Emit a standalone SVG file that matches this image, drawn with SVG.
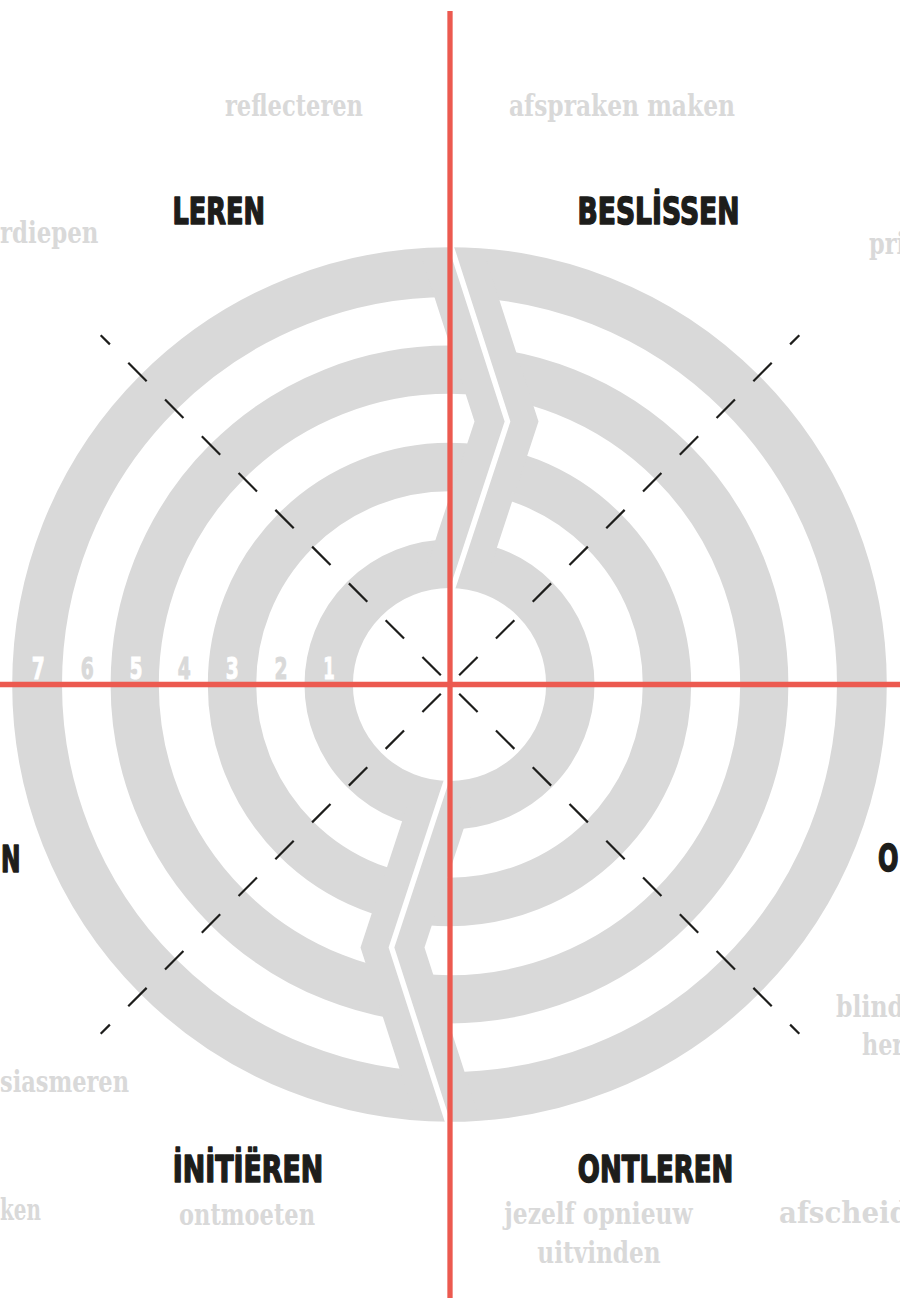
<svg xmlns="http://www.w3.org/2000/svg" xmlns:xlink="http://www.w3.org/1999/xlink" width="900" height="1304" viewBox="0 0 900 1304">
<defs>
<style>
.band{fill:none;stroke:#d9d9d9}
.spine{fill:#d9d9d9}
.cut{fill:none;stroke:#ffffff;stroke-width:5.5;stroke-linejoin:miter}
.dash{stroke:#1d1d1b;stroke-width:2.2;stroke-dasharray:26 26;stroke-dashoffset:13;fill:none}
.axis{stroke:#ec5a50;stroke-width:5.3;fill:none}
.hd{font-family:"DejaVu Sans","Liberation Sans",sans-serif;font-weight:bold;font-size:36.5px;fill:#1d1d1b;stroke:#1d1d1b;stroke-width:1.6;stroke-linejoin:round}
.lbl{font-family:"DejaVu Serif","Liberation Serif",serif;font-weight:bold;font-size:30.5px;fill:#d9d9d9}
.num{font-family:"DejaVu Sans","Liberation Sans",sans-serif;font-weight:bold;font-size:30px;text-anchor:middle;stroke-width:1}
.nw{fill:#ffffff;stroke:#ffffff}
.ng{fill:#d9d9d9;stroke:#d9d9d9}
</style>
<g id="spine">
<polygon class="spine" points="421.2,256 485.2,256 538.5,421.5 491.2,565 427.2,565 474.5,421.5"/>
<polyline class="cut" points="450,243 507.5,421.5 451.4,592"/>
</g>
</defs>
<rect width="900" height="1304" fill="#ffffff"/>
<g id="labyrinth">
<circle class="band" cx="449.5" cy="684.5" r="120.8" stroke-width="48.4"/>
<circle class="band" cx="449.5" cy="684.5" r="217.5" stroke-width="48.4"/>
<circle class="band" cx="449.5" cy="684.5" r="314.8" stroke-width="48.2"/>
<circle class="band" cx="449.5" cy="684.5" r="412.4" stroke-width="49.8"/>
<use xlink:href="#spine" href="#spine"/>
<use xlink:href="#spine" href="#spine" transform="rotate(180 449.5 684.5)"/>
</g>
<g id="connectors">
<line class="dash" x1="100.7" y1="335.2" x2="799.3" y2="1033.8"/>
<line class="dash" x1="799.3" y1="335.2" x2="100.7" y2="1033.8"/>
<line class="axis" x1="450" y1="11" x2="450" y2="1298"/>
<line class="axis" x1="0" y1="684.5" x2="900" y2="684.5"/>
</g>
<g id="circuit-numbers">
<text class="num nw" x="38.3" y="679" textLength="13" lengthAdjust="spacingAndGlyphs">7</text>
<text class="num ng" x="87.3" y="679" textLength="13" lengthAdjust="spacingAndGlyphs">6</text>
<text class="num nw" x="136" y="679" textLength="13" lengthAdjust="spacingAndGlyphs">5</text>
<text class="num ng" x="184.3" y="679" textLength="13" lengthAdjust="spacingAndGlyphs">4</text>
<text class="num nw" x="232.3" y="679" textLength="13" lengthAdjust="spacingAndGlyphs">3</text>
<text class="num ng" x="281" y="679" textLength="13" lengthAdjust="spacingAndGlyphs">2</text>
<text class="num nw" x="329" y="679" textLength="11.5" lengthAdjust="spacingAndGlyphs">1</text>
</g>
<g id="node-leren">
<text class="hd" x="172.5" y="223.5" textLength="92.5" lengthAdjust="spacingAndGlyphs">LEREN</text>
</g>
<g id="node-beslissen">
<text class="hd" x="577.5" y="224" textLength="162" lengthAdjust="spacingAndGlyphs">BESLİSSEN</text>
</g>
<g id="node-initieren">
<text class="hd" x="172.8" y="1181.7" textLength="150.5" lengthAdjust="spacingAndGlyphs">İNİTİËREN</text>
</g>
<g id="node-ontleren">
<text class="hd" x="577.8" y="1182" textLength="155.5" lengthAdjust="spacingAndGlyphs">ONTLEREN</text>
</g>
<g id="node-left">
<text class="hd" x="1" y="871.5" textLength="19.5" lengthAdjust="spacingAndGlyphs">N</text>
</g>
<g id="node-right">
<text class="hd" x="878" y="870.5" textLength="20.5" lengthAdjust="spacingAndGlyphs">O</text>
</g>
<g id="sub-labels">
<text class="lbl" x="225" y="116" textLength="138" lengthAdjust="spacingAndGlyphs">reflecteren</text>
<text class="lbl" x="509" y="116" textLength="226" lengthAdjust="spacingAndGlyphs">afspraken maken</text>
<text class="lbl" x="0" y="243" textLength="98.5" lengthAdjust="spacingAndGlyphs">rdiepen</text>
<text class="lbl" x="869" y="254" textLength="36" lengthAdjust="spacingAndGlyphs">pri</text>
<text class="lbl" x="836" y="1017" textLength="68" lengthAdjust="spacingAndGlyphs">blind</text>
<text class="lbl" x="862" y="1055" textLength="42" lengthAdjust="spacingAndGlyphs">her</text>
<text class="lbl" x="0" y="1092" textLength="129" lengthAdjust="spacingAndGlyphs">siasmeren</text>
<text class="lbl" x="0" y="1220" textLength="41" lengthAdjust="spacingAndGlyphs">ken</text>
<text class="lbl" x="179" y="1225" textLength="136" lengthAdjust="spacingAndGlyphs">ontmoeten</text>
<text class="lbl" x="504.3" y="1224" textLength="188.4" lengthAdjust="spacingAndGlyphs">jezelf opnieuw</text>
<text class="lbl" x="537.3" y="1263" textLength="123.4" lengthAdjust="spacingAndGlyphs">uitvinden</text>
<text class="lbl" x="779" y="1223" textLength="130" lengthAdjust="spacingAndGlyphs">afscheid</text>
</g>
</svg>
